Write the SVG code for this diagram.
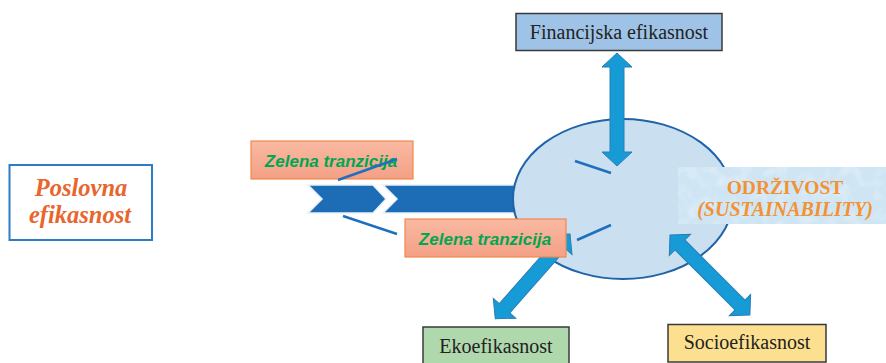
<svg xmlns="http://www.w3.org/2000/svg" width="886" height="363" viewBox="0 0 886 363">
<defs>
<linearGradient id="salmon" x1="0" y1="0" x2="0" y2="1">
<stop offset="0" stop-color="#f9b9a2"/>
<stop offset="1" stop-color="#f4a085"/>
</linearGradient>
<filter id="mottle" x="0" y="0" width="1" height="1">
<feTurbulence type="fractalNoise" baseFrequency="0.08" numOctaves="2" seed="3" result="n"/>
<feColorMatrix in="n" type="matrix" values="0 0 0 0 1  0 0 0 0 1  0 0 0 0 1  0 0 0 0.7 -0.3" result="w"/>
<feComposite in="w" in2="SourceGraphic" operator="in" result="wc"/>
<feMerge><feMergeNode in="SourceGraphic"/><feMergeNode in="wc"/></feMerge>
</filter>
<style>
.box{stroke:#3a3a3a;stroke-width:1.5;}
.zel{fill:url(#salmon);stroke:#f0884f;stroke-width:1.2;}
.zt{font-family:"Liberation Sans",Arial,sans-serif;font-weight:bold;font-style:italic;font-size:17px;fill:#00a651;text-anchor:middle;}
.dbl{fill:#179bd7;stroke:#2a7db5;stroke-width:1;}
.ln{stroke:#1f6fbf;stroke-width:2.5;fill:none;}
.chev{fill:#1c6db5;stroke:#e8f1fa;stroke-width:1.5;}
</style>
</defs>

<g id="poslovna">
<rect x="9.5" y="165" width="142.5" height="75" fill="#ffffff" stroke="#2e7cc4" stroke-width="2"/>
<text font-family="'Liberation Serif','DejaVu Serif',serif" x="81" y="196" text-anchor="middle" font-size="24.5" font-weight="bold" font-style="italic" fill="#e8652d">Poslovna</text>
<text font-family="'Liberation Serif','DejaVu Serif',serif" x="80" y="223" text-anchor="middle" font-size="24.5" font-weight="bold" font-style="italic" fill="#e8652d">efikasnost</text>
</g>

<g id="main-arrow">
<polygon class="chev" points="308,185 373,185 386,199 373,213 308,213 322,199"/>
<polygon class="chev" points="383,185 560,185 560,213 383,213 397,199"/>
</g>

<g id="odrzivost-core">
<ellipse cx="623" cy="199" rx="110" ry="80" fill="#cadff0" stroke="#1f63a8" stroke-width="2"/>
</g>

<g id="connectors">
<line class="ln" x1="343" y1="216" x2="397" y2="234"/>
<line class="ln" x1="575" y1="161" x2="611" y2="173"/>
<line class="ln" x1="577" y1="240" x2="611" y2="225"/>
<polygon class="dbl" transform="translate(617,53) rotate(90)" points="0,0 14,-15 14,-7 99,-7 99,-15 113,0 99,15 99,7 14,7 14,15"/>
<polygon class="dbl" transform="translate(670,235) rotate(45)" points="0,0 14,-15 14,-7 99,-7 99,-15 113,0 99,15 99,7 14,7 14,15"/>
<polygon class="dbl" transform="translate(570,234) rotate(131.4)" points="0,0 14,-15 14,-7 99,-7 99,-15 113,0 99,15 99,7 14,7 14,15"/>
</g>

<g id="zelena-1">
<rect class="zel" x="251" y="141" width="162" height="38"/>
<text class="zt" x="331" y="167">Zelena tranzicija</text>
</g>
<g id="connector-top">
<line class="ln" x1="338" y1="180" x2="397" y2="159"/>
</g>

<g id="zelena-2">
<rect class="zel" x="405" y="219" width="161" height="38"/>
<text class="zt" x="485" y="245">Zelena tranzicija</text>
</g>

<g id="odrzivost">
<rect x="678" y="167" width="208" height="57" fill="#cfe5f4" filter="url(#mottle)"/>
<text font-family="'Liberation Serif','DejaVu Serif',serif" x="785" y="194" text-anchor="middle" font-size="19.5" font-weight="bold" fill="#f39233">ODRŽIVOST</text>
<text font-family="'Liberation Serif','DejaVu Serif',serif" x="785" y="216" text-anchor="middle" font-size="20" font-weight="bold" font-style="italic" fill="#f39233">(SUSTAINABILITY)</text>
</g>

<g id="financijska">
<rect class="box" x="516" y="13.5" width="206" height="37" fill="#9fc3e6"/>
<text font-family="'Liberation Serif','DejaVu Serif',serif" x="619" y="39" text-anchor="middle" font-size="20" fill="#222">Financijska efikasnost</text>
</g>

<g id="ekoefikasnost">
<rect class="box" x="423" y="327" width="146" height="40" fill="#b0d8ad"/>
<text font-family="'Liberation Serif','DejaVu Serif',serif" x="496" y="353" text-anchor="middle" font-size="20" fill="#222">Ekoefikasnost</text>
</g>

<g id="socioefikasnost">
<rect class="box" x="668" y="324.5" width="158" height="37.5" fill="#fde08f"/>
<text font-family="'Liberation Serif','DejaVu Serif',serif" x="747" y="349" text-anchor="middle" font-size="20" fill="#222">Socioefikasnost</text>
</g>
</svg>
